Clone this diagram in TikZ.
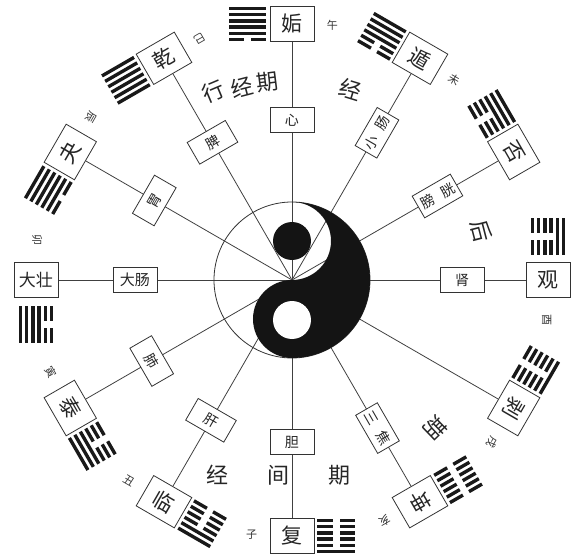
\documentclass[tikz,border=0pt]{standalone}
\usepackage{fontspec}
\newfontfamily\cjk{Noto Sans CJK SC}
\usetikzlibrary{backgrounds}
\newcommand\hexa[3]{%
  \begin{scope}[shift={({256*cos(#1)+44*cos(#1+90)},{256*sin(#1)+44*sin(#1+90)})}, rotate=#2]
    \foreach \v [count=\i] in {#3} {
      \pgfmathsetmacro\yy{(\i-3.5)*6.3}
      \ifnum\v=1
        \fill[hexcol] (-18.5,\yy-1.7) rectangle (18.5,\yy+1.7);
      \else
        \fill[hexcol] (-18.5,\yy-1.7) rectangle (-3.5,\yy+1.7);
        \fill[hexcol] (3.5,\yy-1.7) rectangle (18.5,\yy+1.7);
      \fi
    }
  \end{scope}}
\newcommand\twoch[2]{#1\hspace{9pt}#2}
\begin{document}
\begin{tikzpicture}[x=1pt,y=1pt,
  spoke/.style={draw=black!75, line width=0.8pt},
  hexcol/.style={fill=black!90},
  outerbox/.style={draw=black!80, line width=0.8pt, fill=white, minimum width=44pt, minimum height=35pt, inner sep=0pt, text=black!85, font=\cjk\fontsize{21}{21}\selectfont},
  outerbox2/.style={outerbox, font=\cjk\fontsize{17}{17}\selectfont},
  innerbox/.style={draw=black!80, line width=0.8pt, fill=white, minimum width=44pt, minimum height=25pt, inner sep=0pt, text=black!85, font=\cjk\fontsize{14}{14}\selectfont},
  branch/.style={inner sep=0pt, text=black!80, font=\cjk\fontsize{11}{11}\selectfont},
  phase/.style={inner sep=0pt, text=black!85, font=\cjk\fontsize{22}{22}\selectfont}]
\useasboundingbox (-292,-277) rectangle (281,280);
\coordinate (O) at (0,0);
% outer boxes
\node[outerbox] (gou) at (90:256) {姤};
\node[outerbox, rotate=-30] (dun) at (60:256) {遁};
\node[outerbox, rotate=-60] (pi) at (30:256) {否};
\node[outerbox] (guan) at (0:256) {观};
\node[outerbox, rotate=-120] (bo) at (-30:256) {剥};
\node[outerbox, rotate=-150] (kun) at (-60:256) {坤};
\node[outerbox] (fu) at (-90:256) {复};
\node[outerbox, rotate=-30] (lin) at (-120:256) {临};
\node[outerbox, rotate=-60] (tai) at (-150:256) {泰};
\node[outerbox2] (dazhuang) at (180:256) {大壮};
\node[outerbox, rotate=60] (guai) at (150:256) {夬};
\node[outerbox, rotate=30] (qian) at (120:256) {乾};
% inner boxes
\node[innerbox] (xin) at (90:160) {心};
\node[innerbox, rotate=60] (xiaochang) at (60:170) {\twoch{小}{肠}};
\node[innerbox, rotate=30] (pangguang) at (30:168) {\twoch{膀}{胱}};
\node[innerbox] (shen) at (0:170) {肾};
\node[innerbox, rotate=-60] (sanjiao) at (-60:171) {\twoch{三}{焦}};
\node[innerbox] (dan) at (-90:162) {胆};
\node[innerbox, rotate=-30] (gan) at (-120:162) {肝};
\node[innerbox, rotate=-60] (fei) at (-150:162) {肺};
\node[innerbox, font=\cjk\fontsize{15}{15}\selectfont] (dachang) at (180:157) {大肠};
\node[innerbox, rotate=60] (wei) at (150:159) {胃};
\node[innerbox, rotate=30] (spleen) at (120:159) {脾};
% spokes
\begin{pgfonlayer}{background}
\foreach \n in {gou,dun,pi,guan,bo,kun,fu,lin,tai,dazhuang,guai,qian}
  \draw[spoke] (O) -- (\n);
\end{pgfonlayer}
% yin-yang
\draw[black!80, line width=0.8pt] (O) circle (78);
\fill[black!92] (0,78) arc[start angle=90, end angle=-90, radius=78]
  arc[start angle=-90, end angle=-270, radius=39]
  arc[start angle=-90, end angle=90, radius=39] -- cycle;
\fill[white] (0,-40) circle (19);
\fill[black!92] (0,39) circle (19);
% hexagrams (bottom line first)
\hexa{90}{0}{0,1,1,1,1,1}
\hexa{60}{-30}{0,0,1,1,1,1}
\hexa{30}{-60}{0,0,0,1,1,1}
\hexa{0}{-90}{0,0,0,0,1,1}
\hexa{-30}{-120}{0,0,0,0,0,1}
\hexa{-60}{-150}{0,0,0,0,0,0}
\hexa{-90}{0}{1,0,0,0,0,0}
\hexa{-120}{-30}{1,1,0,0,0,0}
\hexa{-150}{-60}{1,1,1,0,0,0}
\hexa{180}{-90}{1,1,1,1,0,0}
\hexa{150}{-120}{1,1,1,1,1,0}
\hexa{120}{-150}{1,1,1,1,1,1}
% earthly branches
\node[branch] (wu) at (81:258) {午};
\node[branch, rotate=-30] (wei2) at (51:258) {未};
\node[branch, rotate=-90] (you) at (-9:258) {酉};
\node[branch, rotate=-120] (xu) at (-39:258) {戌};
\node[branch, rotate=-150] (hai) at (-69:258) {亥};
\node[branch] (zi) at (-99:258) {子};
\node[branch, rotate=-30] (chou) at (-129:258) {丑};
\node[branch, rotate=-60] (yin) at (-159:258) {寅};
\node[branch, rotate=-90] (mao) at (171:258) {卯};
\node[branch, rotate=-120] (chen) at (141:258) {辰};
\node[branch, rotate=-150] (si) at (111:258) {巳};
% phases
\node[phase, rotate=22.8] (pa1) at (112.8:204) {行};
\node[phase, rotate=14.5] (pa2) at (104.5:199) {经};
\node[phase, rotate=7.2] (pa3) at (97.2:200) {期};
\node[phase, rotate=-17] (pb1) at (73:199) {经};
\node[phase, rotate=-75.5] (pb2) at (14.5:195) {后};
\node[phase, rotate=-136] (pb3) at (-45.8:206) {期};
\node[phase] (pc1) at (-74,-195) {经};
\node[phase] (pc2) at (-13,-195) {间};
\node[phase] (pc3) at (48,-195) {期};
\end{tikzpicture}
\end{document}
